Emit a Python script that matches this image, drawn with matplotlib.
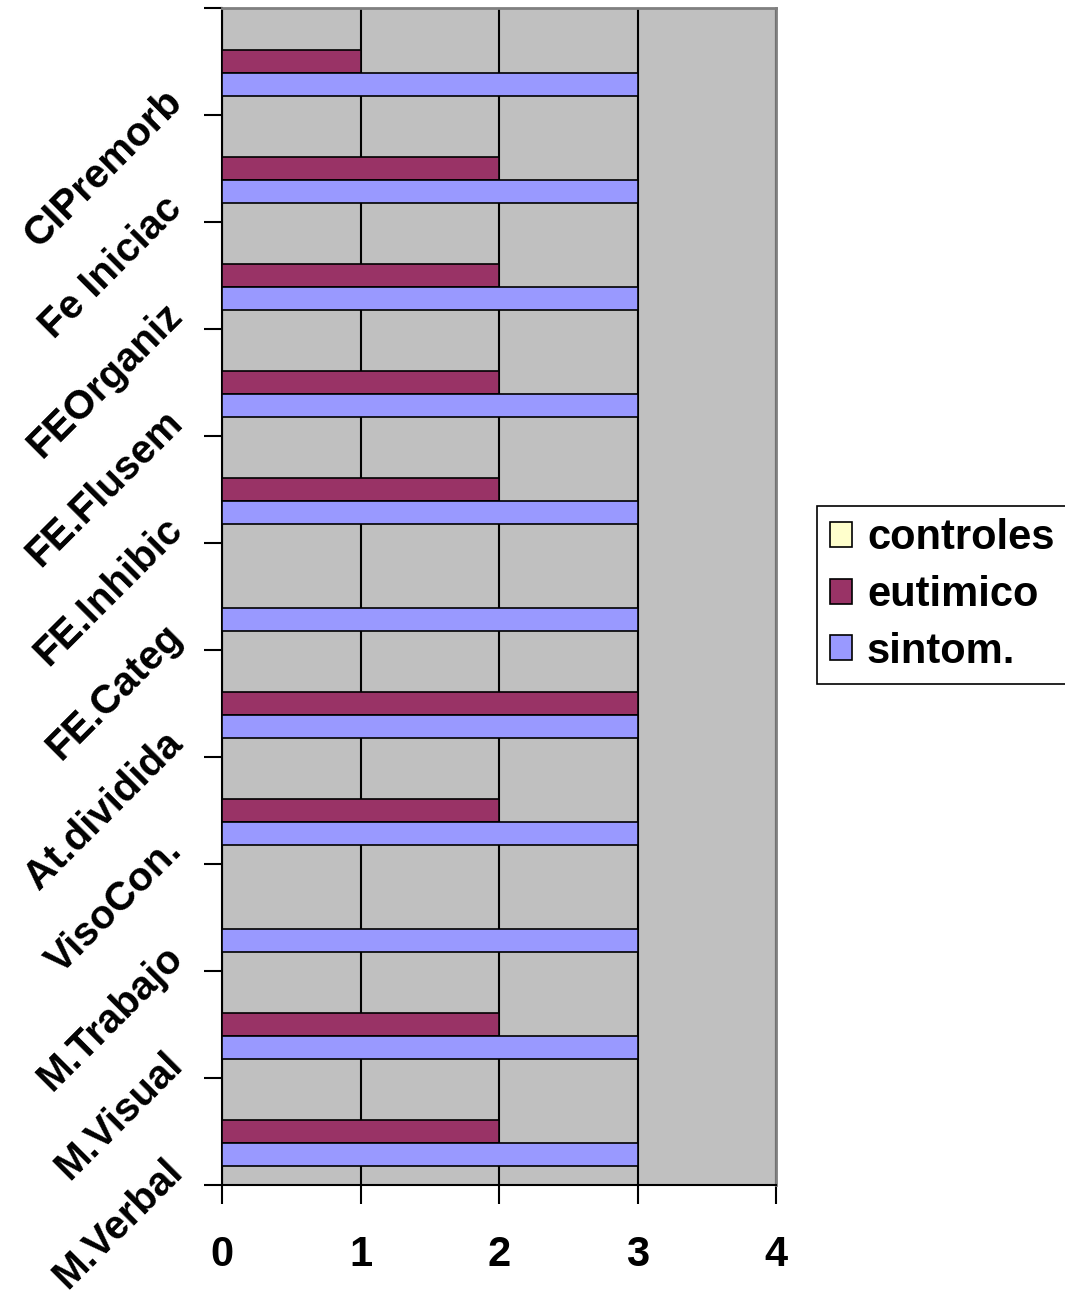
import numpy as np
import matplotlib.pyplot as plt
import matplotlib.transforms as mtransforms

# categories bottom -> top
categories = ['M.Verbal', 'M.Visual', 'M.Trabajo', 'VisoCon.', 'At.dividida',
              'FE.Categ', 'FE.Inhibic', 'FE.Flusem', 'FEOrganiz', 'Fe Iniciac',
              'CIPremorb']
controles = [0, 0, 0, 0, 0, 0, 0, 0, 0, 0, 0]
eutimico = [2, 2, 0, 2, 3, 0, 2, 2, 2, 2, 1]
sintom = [3, 3, 3, 3, 3, 3, 3, 3, 3, 3, 3]
xticks = [0, 1, 2, 3, 4]

plt.rcParams['font.family'] = ['Liberation Sans', 'DejaVu Sans']
plt.rcParams['font.weight'] = 'bold'

fig = plt.figure(figsize=(10.65, 12.96), dpi=100)
ax = fig.add_axes([222/1065, 111/1296, 554/1065, 1177/1296])
ax.set_facecolor('#C0C0C0')

y = np.arange(len(categories))
h = 0.215
ax.barh(y + h, controles, height=h, color='#FFFFCC', edgecolor='black', linewidth=1.2, label='controles', zorder=3)
ax.barh(y, eutimico, height=h, color='#993366', edgecolor='black', linewidth=1.2, label='eutimico', zorder=3)
ax.barh(y - h, sintom, height=h, color='#9999FF', edgecolor='black', linewidth=1.2, label='sintom.', zorder=3)

ax.set_xlim(0, 4)
ax.set_ylim(-0.5, len(categories) - 0.5)
ax.set_xticks(xticks)
ax.set_xticklabels([str(v) for v in xticks], fontsize=30, fontweight='bold')
ax.tick_params(axis='x', direction='out', length=14, width=1.5, pad=22)

ax.set_yticks(y)
ax.set_yticklabels(categories, fontsize=29, fontweight='bold', rotation=45,
                   ha='right', va='center', rotation_mode='anchor')
ax.tick_params(axis='y', which='major', length=0, pad=33)
ax.set_yticks(np.arange(-0.5, len(categories), 1.0), minor=True)
ax.tick_params(axis='y', which='minor', direction='out', length=13, width=1.5)
offset = mtransforms.ScaledTranslation(0, -0.34, fig.dpi_scale_trans)
for lbl in ax.get_yticklabels():
    lbl.set_transform(lbl.get_transform() + offset)

ax.xaxis.grid(True, color='black', linewidth=1.5, zorder=1)
ax.set_axisbelow(True)
for s in ['top', 'right']:
    ax.spines[s].set_color('#808080')
    ax.spines[s].set_linewidth(2)
for s in ['left', 'bottom']:
    ax.spines[s].set_linewidth(1.5)

leg = ax.legend(loc='center left', bbox_to_anchor=(817/1065, 1 - 595/1296),
                bbox_transform=fig.transFigure, fontsize=30, frameon=True,
                fancybox=False, edgecolor='black', framealpha=1,
                handlelength=0.55, handleheight=0.55, handletextpad=0.35,
                labelspacing=0.4, borderpad=0.3, borderaxespad=0)
leg.get_frame().set_linewidth(1.2)

fig.savefig('out.png', dpi=100)
